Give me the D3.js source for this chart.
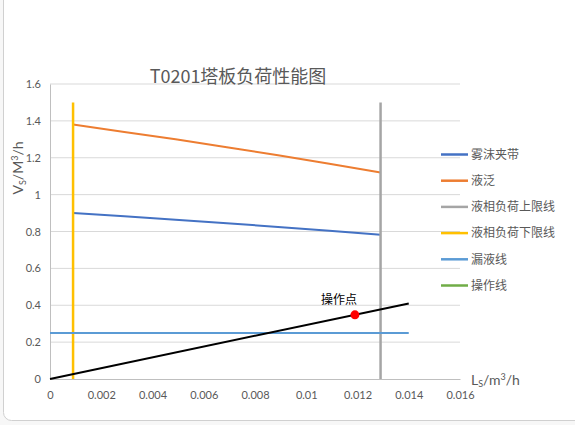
<!DOCTYPE html>
<html>
<head>
<meta charset="utf-8">
<script src="https://cdn.jsdelivr.net/npm/d3@7"></script>
<style>
  body { margin: 0; background: #fff; }
  svg { display: block; }
  text { font-family: Lato, "Noto Sans CJK SC", sans-serif; }
</style>
</head>
<body>
<div id="chart"></div>
<script>
// data
const xTicks = [0, 0.002, 0.004, 0.006, 0.008, 0.01, 0.012, 0.014, 0.016];
const yTicks = [0, 0.2, 0.4, 0.6, 0.8, 1, 1.2, 1.4, 1.6];

const lsValues = [0.0009, 0.0029, 0.0049, 0.0069, 0.0089, 0.0109, 0.0129];
const entrainment = [0.9, 0.883, 0.864, 0.845, 0.825, 0.804, 0.783];   // 雾沫夹带
const flooding = [1.38, 1.34, 1.30, 1.257, 1.213, 1.167, 1.12];         // 液泛
const liquidUpper = [[0.0129, 0], [0.0129, 1.5]];                      // 液相负荷上限线
const liquidLower = [[0.0009, 0], [0.0009, 1.5]];                      // 液相负荷下限线
const weeping = [[0, 0.25], [0.014, 0.25]];                            // 漏液线
const operating = [[0, 0], [0.014, 0.41]];                             // 操作线
const opPoint = [0.0119, 0.348];                                       // 操作点

const legendNames = ["雾沫夹带", "液泛", "液相负荷上限线", "液相负荷下限线", "漏液线", "操作线"];
const legendColors = ["#4472c4", "#ed7d31", "#a5a5a5", "#ffc000", "#5b9bd5", "#70ad47"];

const width = 575, height = 425;

const svg = d3.select("#chart")
  .append("svg")
  .attr("width", width)
  .attr("height", height);

// spreadsheet background and chart frame
svg.append("rect").attr("width", width).attr("height", height).attr("fill", "#f7f7f7");
svg.append("rect")
  .attr("x", 3.5).attr("y", -20)
  .attr("width", 620).attr("height", 440.5)
  .attr("rx", 8)
  .attr("fill", "#fff")
  .attr("stroke", "#d0d0d0");

const x = d3.scaleLinear().domain([0, 0.016]).range([50, 460]);
const y = d3.scaleLinear().domain([0, 1.6]).range([379, 84]);

// gridlines
svg.append("g")
  .selectAll("line")
  .data(yTicks.slice(1))
  .enter()
  .append("line")
  .attr("x1", x(0)).attr("x2", x(0.016))
  .attr("y1", d => y(d)).attr("y2", d => y(d))
  .attr("stroke", "#d9d9d9");

// axes
const xAxis = svg.append("g")
  .attr("transform", "translate(0," + y(0) + ")")
  .call(d3.axisBottom(x).tickValues(xTicks).tickSize(0).tickFormat(d => d3.format("~g")(d)));
xAxis.select(".domain").attr("stroke", "#bfbfbf");
xAxis.selectAll("text")
  .attr("dy", 0).attr("y", 20)
  .attr("fill", "#595959").style("font-size", "11px");

const yAxis = svg.append("g")
  .attr("transform", "translate(" + x(0) + ",0)")
  .call(d3.axisLeft(y).tickValues(yTicks).tickSize(0).tickFormat(d => d3.format("~g")(d)));
yAxis.select(".domain").attr("stroke", "#bfbfbf");
yAxis.selectAll("text")
  .attr("x", -9)
  .attr("fill", "#595959").style("font-size", "11px");

// title
svg.append("text")
  .attr("x", 238).attr("y", 83)
  .attr("text-anchor", "middle")
  .attr("fill", "#595959")
  .style("font-size", "18px")
  .style("font-family", "\"Noto Sans CJK SC\", sans-serif")
  .text("T0201塔板负荷性能图");

// axis titles
const yTitle = svg.append("text")
  .attr("transform", "translate(23,168) rotate(-90)")
  .attr("text-anchor", "middle")
  .attr("fill", "#595959")
  .style("font-size", "14px");
yTitle.append("tspan").text("V");
yTitle.append("tspan").attr("dy", 3).style("font-size", "9px").text("S");
yTitle.append("tspan").attr("dy", -3).text("/M");
yTitle.append("tspan").attr("dy", -5).style("font-size", "9px").text("3");
yTitle.append("tspan").attr("dy", 5).text("/h");

const xTitle = svg.append("text")
  .attr("x", 471).attr("y", 385)
  .attr("fill", "#595959")
  .style("font-size", "14px");
xTitle.append("tspan").text("L");
xTitle.append("tspan").attr("dy", 2).style("font-size", "9px").text("S");
xTitle.append("tspan").attr("dy", -2).text("/m");
xTitle.append("tspan").attr("dy", -5).style("font-size", "9px").text("3");
xTitle.append("tspan").attr("dy", 5).text("/h");

// series
const line = d3.line().x(d => x(d[0])).y(d => y(d[1]));
const seriesData = [
  { pts: lsValues.map((v, i) => [v, entrainment[i]]), color: legendColors[0], w: 2 },
  { pts: lsValues.map((v, i) => [v, flooding[i]]), color: legendColors[1], w: 2 },
  { pts: liquidUpper, color: legendColors[2], w: 2.5 },
  { pts: liquidLower, color: legendColors[3], w: 2.5 },
  { pts: weeping, color: legendColors[4], w: 2 },
  { pts: operating, color: "#000", w: 2 }
];

svg.append("g")
  .selectAll("path")
  .data(seriesData)
  .enter()
  .append("path")
  .attr("d", d => line(d.pts))
  .attr("fill", "none")
  .attr("stroke", d => d.color)
  .attr("stroke-width", d => d.w);

// operating point
svg.append("circle")
  .attr("cx", x(opPoint[0])).attr("cy", y(opPoint[1]))
  .attr("r", 4.5)
  .attr("fill", "#ff0000");
svg.append("text")
  .attr("x", x(opPoint[0]) - 16).attr("y", y(opPoint[1]) - 11)
  .attr("text-anchor", "middle")
  .attr("fill", "#000")
  .style("font-size", "12px")
  .style("font-family", "\"Noto Sans CJK SC\", sans-serif")
  .text("操作点");

// legend
const legend = svg.append("g")
  .selectAll("g")
  .data(legendNames)
  .enter()
  .append("g")
  .attr("transform", (d, i) => "translate(441," + (154.5 + i * 26.2) + ")");
legend.append("line")
  .attr("x1", 0).attr("x2", 27)
  .attr("stroke", (d, i) => legendColors[i])
  .attr("stroke-width", 2.5);
legend.append("text")
  .attr("x", 30).attr("dy", "0.35em")
  .attr("fill", "#595959")
  .style("font-size", "12px")
  .style("font-family", "\"Noto Sans CJK SC\", sans-serif")
  .text(d => d);
</script>
</body>
</html>
